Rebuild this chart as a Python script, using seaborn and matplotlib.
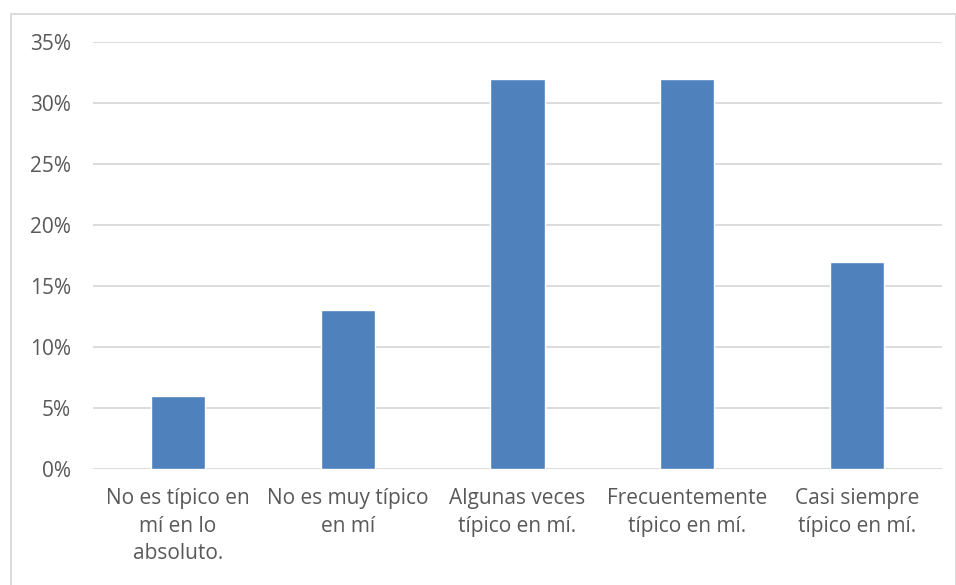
import matplotlib
matplotlib.use("Agg")
import matplotlib.pyplot as plt
import seaborn as sns
import pandas as pd
from matplotlib.patches import Rectangle
from matplotlib.ticker import FuncFormatter

# Data
categories = [
    "No es típico en\nmí en lo\nabsoluto.",
    "No es muy típico\nen mí",
    "Algunas veces\ntípico en mí.",
    "Frecuentemente\ntípico en mí.",
    "Casi siempre\ntípico en mí.",
]
values = [0.06, 0.13, 0.32, 0.32, 0.17]
yticks = [0, 0.05, 0.10, 0.15, 0.20, 0.25, 0.30, 0.35]

df = pd.DataFrame({"categoria": categories, "valor": values})

sns.set_style("white")
plt.rcParams["font.family"] = ["Open Sans", "DejaVu Sans"]

fig = plt.figure(figsize=(9.56, 5.85), dpi=100)
ax = fig.add_axes([93 / 956, 1 - 469 / 585, (942 - 93) / 956, (469 - 42) / 585])

sns.barplot(data=df, x="categoria", y="valor", color="#4F81BD",
            saturation=1, width=0.32, ax=ax)

ax.set_ylim(0, 0.35)
ax.set_yticks(yticks)
ax.yaxis.set_major_formatter(FuncFormatter(lambda v, _: f"{v * 100:.0f}%"))
ax.set_xlim(-0.5, len(categories) - 0.5)
ax.grid(axis="y", color="#D9D9D9", linewidth=1.3)
ax.set_axisbelow(True)
for s in ax.spines.values():
    s.set_visible(False)
ax.set_xlabel("")
ax.set_ylabel("")
ax.tick_params(axis="both", length=0, labelsize=15, colors="#595959")
ax.tick_params(axis="y", pad=16)
ax.tick_params(axis="x", pad=14)
for lab in ax.get_xticklabels():
    lab.set_linespacing(1.4)

# outer chart frame
fig.patches.append(Rectangle((11 / 956, -0.05), 945 / 956, 1.05 - 14 / 585,
                             transform=fig.transFigure, fill=False,
                             edgecolor="#D9D9D9", linewidth=1.3))

fig.savefig("out.png", dpi=100)
